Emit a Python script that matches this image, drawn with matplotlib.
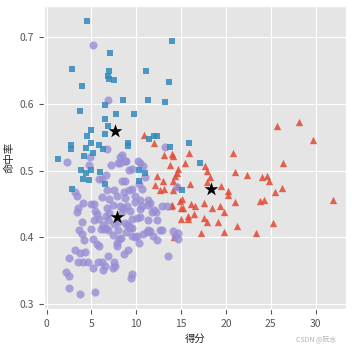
import numpy as np
import matplotlib
matplotlib.use("Agg")
import matplotlib.pyplot as plt

# cluster 1 (blue squares): score, hit rate
blue_x = [4.54, 2.86, 7.1, 6.9, 6.85, 6.9, 7.55, 3.98, 11.1, 13.6, 14.0, 13.25, 8.56,
          11.35, 3.75, 6.55, 7.74, 9.79, 6.55, 6.89, 4.99, 4.54, 6.55, 4.99, 9.1, 9.1,
          2.75, 2.75, 4.4, 5.88, 6.33, 5.17, 4.2, 1.3, 11.4, 12.0, 12.3, 13.78, 15.93,
          17.16, 3.85, 4.39, 5.0, 5.98, 10.3, 11.0, 4.09, 4.7, 6.55, 2.86, 10.35, 15.08]
blue_y = [0.725, 0.652, 0.676, 0.649, 0.642, 0.638, 0.636, 0.627, 0.649, 0.633, 0.694,
          0.603, 0.606, 0.606, 0.589, 0.598, 0.585, 0.585, 0.578, 0.567, 0.561, 0.552,
          0.555, 0.541, 0.541, 0.537, 0.539, 0.533, 0.534, 0.538, 0.533, 0.527, 0.522,
          0.518, 0.547, 0.552, 0.552, 0.535, 0.541, 0.512, 0.501, 0.497, 0.501, 0.498,
          0.501, 0.497, 0.487, 0.486, 0.479, 0.472, 0.485, 0.471]

# cluster 2 (red triangles)
red_x = [25.66, 28.2, 29.68, 20.74, 26.33, 20.96, 22.3, 24.0, 24.6, 24.76, 26.29, 25.5,
         17.88, 18.25, 17.9, 19.47, 20.18, 20.18, 23.75, 24.3, 20.96, 31.9, 19.36, 19.84,
         18.5, 17.6, 17.6, 17.85, 19.1, 21.2, 25.2, 19.84, 23.3, 17.24, 15.12, 14.9, 15.0,
         15.26, 16.12, 16.6, 15.82, 16.49, 15.0, 15.75, 13.85, 14.26, 10.87, 12.02, 13.1,
         13.96, 14.15, 15.93, 15.45, 13.78, 17.72, 14.6, 14.33, 14.53, 12.29, 13.03, 14.07,
         16.01, 12.1, 13.1, 14.15, 14.53, 12.6, 13.96]
red_y = [0.567, 0.573, 0.546, 0.526, 0.511, 0.498, 0.494, 0.491, 0.492, 0.485, 0.474,
         0.467, 0.499, 0.491, 0.482, 0.476, 0.469, 0.463, 0.454, 0.455, 0.452, 0.455,
         0.446, 0.438, 0.443, 0.451, 0.428, 0.422, 0.422, 0.416, 0.421, 0.407, 0.406,
         0.406, 0.457, 0.454, 0.443, 0.444, 0.449, 0.447, 0.432, 0.434, 0.427, 0.427,
         0.446, 0.400, 0.554, 0.542, 0.523, 0.525, 0.522, 0.527, 0.511, 0.508, 0.507,
         0.502, 0.492, 0.497, 0.492, 0.485, 0.485, 0.480, 0.478, 0.472, 0.471, 0.477,
         0.470, 0.448]

# cluster 3 (purple circles)
purple_x = [5.21, 6.89, 13.2, 6.74, 2.3, 8.41, 8.16, 7.93, 8.2, 7.22, 4.69, 8.86, 4.84,
            6.59, 6.18, 8.41, 9.23, 3.16, 3.35, 6.77, 7.52, 8.67, 6.18, 6.93, 7.81, 9.23,
            4.02, 4.92, 5.25, 3.53, 7.44, 8.19, 6.7, 3.42, 5.66, 5.28, 5.88, 3.98, 6.63,
            7.0, 6.89, 8.41, 8.71, 3.64, 3.9, 4.99, 6.07, 6.44, 6.89, 7.48, 5.21, 5.58,
            4.21, 8.08, 8.3, 8.82, 7.82, 5.88, 3.16, 3.72, 4.28, 6.81, 2.53, 3.53, 4.09,
            4.65, 5.77, 7.52, 6.55, 5.17, 7.44, 6.33, 2.12, 2.53, 2.53, 3.76, 5.43, 8.93,
            10.42, 10.6, 11.35, 12.85, 11.73, 12.0, 9.5, 10.06, 10.42, 11.28, 12.36, 9.2,
            9.5, 9.5, 9.87, 10.8, 11.28, 11.54, 11.9, 12.29, 12.66, 12.92, 14.15, 14.63,
            14.33, 14.7, 10.3, 9.12, 13.59, 9.57, 9.42, 8.75, 10.17, 10.42, 10.8, 9.5,
            8.75, 10.35, 10.6, 9.5, 8.75, 9.87, 10.42, 11.35, 13.4, 14.5, 5.84, 11.0,
            9.87, 11.54, 8.56, 9.3, 12.2, 5.4, 6.33, 6.63, 8.0, 8.0, 7.44, 8.94, 9.3,
            11.17, 10.13, 7.9, 8.64, 6.14, 7.63]
purple_y = [0.689, 0.606, 0.536, 0.533, 0.513, 0.523, 0.520, 0.512, 0.512, 0.509, 0.509,
            0.514, 0.521, 0.494, 0.488, 0.485, 0.501, 0.467, 0.461, 0.471, 0.471, 0.467,
            0.460, 0.457, 0.461, 0.470, 0.451, 0.449, 0.449, 0.443, 0.448, 0.447, 0.443,
            0.438, 0.435, 0.426, 0.427, 0.423, 0.432, 0.436, 0.425, 0.437, 0.421, 0.411,
            0.404, 0.412, 0.412, 0.412, 0.410, 0.419, 0.397, 0.390, 0.396, 0.397, 0.398,
            0.407, 0.387, 0.387, 0.381, 0.376, 0.378, 0.372, 0.368, 0.363, 0.362, 0.362,
            0.363, 0.363, 0.357, 0.353, 0.354, 0.350, 0.348, 0.342, 0.324, 0.314, 0.318,
            0.447, 0.442, 0.447, 0.448, 0.447, 0.437, 0.440, 0.427, 0.429, 0.430, 0.425,
            0.425, 0.417, 0.414, 0.402, 0.400, 0.405, 0.411, 0.409, 0.401, 0.395, 0.411,
            0.411, 0.409, 0.406, 0.401, 0.397, 0.391, 0.380, 0.372, 0.344, 0.339, 0.514,
            0.514, 0.512, 0.507, 0.502, 0.485, 0.479, 0.472, 0.472, 0.458, 0.453, 0.455,
            0.455, 0.446, 0.475, 0.487, 0.490, 0.461, 0.451, 0.443, 0.439, 0.438, 0.439,
            0.418, 0.413, 0.423, 0.411, 0.403, 0.418, 0.413, 0.408, 0.401, 0.391, 0.374,
            0.363, 0.356]

# cluster centres (black stars)
center_x = [7.63, 7.89, 18.36]
center_y = [0.559, 0.430, 0.472]

plt.style.use("ggplot")
plt.rcParams["font.family"] = ["Noto Sans CJK SC", "DejaVu Sans"]
plt.rcParams["axes.unicode_minus"] = False

fig = plt.figure(figsize=(3.52, 3.52), dpi=100)
ax = fig.add_axes([0.125, 0.122, 0.858, 0.861])

ax.scatter(red_x, red_y, marker="^", s=28, color="#E24A33", alpha=0.85, lw=0)
ax.scatter(purple_x, purple_y, marker="o", s=34, color="#988ED5", alpha=0.8, lw=0)
ax.scatter(blue_x, blue_y, marker="s", s=22, color="#348ABD", alpha=0.85, lw=0)
ax.scatter(center_x, center_y, marker="*", s=110, color="black", lw=0)

ax.set_xlim(-0.3, 33.4)
ax.set_ylim(0.292, 0.747)
ax.set_xticks([0, 5, 10, 15, 20, 25, 30])
ax.set_yticks([0.3, 0.4, 0.5, 0.6, 0.7])
ax.tick_params(labelsize=7.5)
ax.set_xlabel("得分", fontsize=7.5, color="#222222")
ax.set_ylabel("命中率", fontsize=7.5, color="#222222")

fig.text(0.955, 0.035, "CSDN @阮水", fontsize=5, color="#b0b0b0", ha="right", va="center")

plt.savefig("out.png", dpi=100)
